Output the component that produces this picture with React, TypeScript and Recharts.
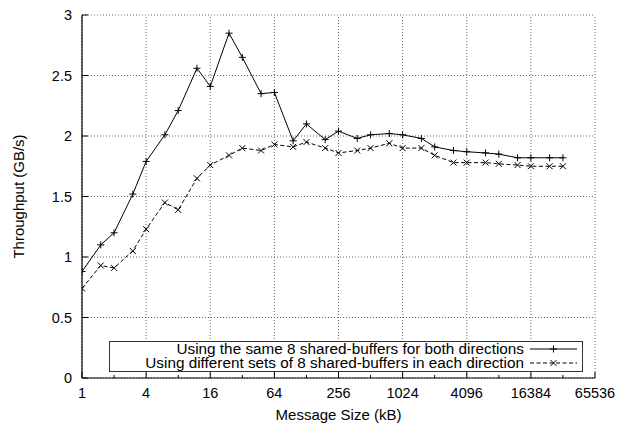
import React from 'react'
import {
  LineChart,
  Line,
  XAxis,
  YAxis,
  CartesianGrid,
  ReferenceLine,
  Legend,
} from 'recharts'

const FONT = '"Liberation Sans", Arial, Helvetica, sans-serif'
const GRID = '#666'

// message sizes in kB
const SIZES = [
  1, 1.5, 2, 3, 4, 6, 8, 12, 16, 24, 32, 48, 64, 96, 128, 192, 256, 384, 512, 768, 1024, 1536,
  2048, 3072, 4096, 6144, 8192, 12288, 16384, 24576, 32768,
]
// throughput (GB/s), same 8 shared-buffers for both directions
const SAME = [
  0.88, 1.1, 1.2, 1.52, 1.79, 2.01, 2.21, 2.56, 2.41, 2.85, 2.65, 2.35, 2.36, 1.96, 2.1, 1.97,
  2.04, 1.98, 2.01, 2.02, 2.01, 1.98, 1.91, 1.88, 1.87, 1.86, 1.85, 1.82, 1.82, 1.82, 1.82,
]
// throughput (GB/s), different sets of 8 shared-buffers in each direction
const DIFFERENT = [
  0.74, 0.93, 0.91, 1.05, 1.23, 1.45, 1.39, 1.65, 1.76, 1.84, 1.9, 1.88, 1.93, 1.91, 1.95, 1.9,
  1.86, 1.88, 1.9, 1.94, 1.9, 1.9, 1.84, 1.78, 1.78, 1.78, 1.77, 1.76, 1.75, 1.75, 1.75,
]

const X_MAJOR = [1, 4, 16, 64, 256, 1024, 4096, 16384, 65536]
const X_ALL = [1, 2, 4, 8, 16, 32, 64, 128, 256, 512, 1024, 2048, 4096, 8192, 16384, 32768, 65536]
const Y_TICKS = [0, 0.5, 1, 1.5, 2, 2.5, 3]

const LABEL_SAME = 'Using the same 8 shared-buffers for both directions'
const LABEL_DIFF = 'Using different sets of 8 shared-buffers in each direction'

const data = SIZES.map((s, i) => ({ size: s, same: SAME[i], diff: DIFFERENT[i] }))

const tickLen = (v: number) => (X_MAJOR.includes(v) ? 6 : 3)

function BottomTick(props: any) {
  const { x, y, payload } = props
  const v = payload.value
  return (
    <g>
      <line x1={x} x2={x} y1={y} y2={y - tickLen(v)} stroke="#000" />
      {X_MAJOR.includes(v) && (
        <text x={x} y={y + 20} textAnchor="middle" fontSize={14.5} fontFamily={FONT} fill="#000">
          {v}
        </text>
      )}
    </g>
  )
}

function TopTick(props: any) {
  const { x, y, payload } = props
  return <line x1={x} x2={x} y1={y} y2={y + tickLen(payload.value)} stroke="#000" />
}

function LeftTick(props: any) {
  const { x, y, payload } = props
  return (
    <g>
      <line x1={x} x2={x + 6} y1={y} y2={y} stroke="#000" />
      <text x={x - 10} y={y + 5} textAnchor="end" fontSize={14.5} fontFamily={FONT} fill="#000">
        {payload.value}
      </text>
    </g>
  )
}

function RightTick(props: any) {
  const { x, y } = props
  return <line x1={x} x2={x - 6} y1={y} y2={y} stroke="#000" />
}

function PlusDot(props: any) {
  const { cx, cy } = props
  if (cx == null || cy == null) return null
  return (
    <g stroke="#000" strokeWidth={1} strokeDasharray="none">
      <line x1={cx - 3.5} x2={cx + 3.5} y1={cy} y2={cy} />
      <line x1={cx} x2={cx} y1={cy - 3.5} y2={cy + 3.5} />
    </g>
  )
}

function CrossDot(props: any) {
  const { cx, cy } = props
  if (cx == null || cy == null) return null
  return (
    <g stroke="#000" strokeWidth={1} strokeDasharray="none">
      <line x1={cx - 3} x2={cx + 3} y1={cy - 3} y2={cy + 3} />
      <line x1={cx - 3} x2={cx + 3} y1={cy + 3} y2={cy - 3} />
    </g>
  )
}

function KeyBox() {
  return (
    <svg width={474} height={31} style={{ display: 'block' }}>
      <rect x={0.5} y={0.5} width={473} height={30} fill="#fff" stroke="#333" />
      <text x={415} y={13.4} textAnchor="end" fontSize={15.3} fontFamily={FONT} fill="#000">
        {LABEL_SAME}
      </text>
      <line x1={421} x2={468} y1={8} y2={8} stroke="#000" />
      <PlusDot cx={444.5} cy={8} />
      <text x={415} y={27.4} textAnchor="end" fontSize={15.3} fontFamily={FONT} fill="#000">
        {LABEL_DIFF}
      </text>
      <line x1={421} x2={468} y1={22} y2={22} stroke="#000" strokeDasharray="4 2.5" />
      <CrossDot cx={444.5} cy={22} />
    </svg>
  )
}

const xTitle = (props: any) => {
  const vb = props.viewBox
  return (
    <text
      x={vb.x + vb.width / 2}
      y={vb.y + 42}
      textAnchor="middle"
      fontSize={15}
      fontFamily={FONT}
      fill="#000"
    >
      Message Size (kB)
    </text>
  )
}

const yTitle = (props: any) => {
  const vb = props.viewBox
  const cx = vb.x + 24
  const cy = vb.y + vb.height / 2
  return (
    <text
      x={cx}
      y={cy}
      transform={`rotate(-90, ${cx}, ${cy})`}
      textAnchor="middle"
      fontSize={15}
      fontFamily={FONT}
      fill="#000"
    >
      Throughput (GB/s)
    </text>
  )
}

export default function App() {
  return (
    <div style={{ position: 'absolute', left: 0, top: 0, width: 618, height: 423, background: '#fff' }}>
      <LineChart width={618} height={423} data={data} margin={{ top: 15, right: 23, bottom: 0, left: 0 }}>
        <CartesianGrid vertical={false} stroke={GRID} strokeDasharray="1 2" />
        {X_MAJOR.map((v) => (
          <ReferenceLine key={v} x={v} stroke={GRID} strokeDasharray="1 2" />
        ))}
        <XAxis
          dataKey="size"
          type="number"
          scale="log"
          domain={[1, 65536]}
          allowDataOverflow
          ticks={X_ALL}
          interval={0}
          height={45}
          tickSize={0}
          tickMargin={0}
          tickLine={false}
          tick={BottomTick}
          axisLine={{ stroke: '#000', strokeWidth: 1.2 }}
          label={xTitle}
        />
        <XAxis
          xAxisId="top"
          orientation="top"
          dataKey="size"
          type="number"
          scale="log"
          domain={[1, 65536]}
          allowDataOverflow
          ticks={X_ALL}
          interval={0}
          height={0}
          tickSize={0}
          tickMargin={0}
          tickLine={false}
          tick={TopTick}
          axisLine={{ stroke: '#000', strokeWidth: 1.2 }}
        />
        <YAxis
          type="number"
          domain={[0, 3]}
          ticks={Y_TICKS}
          interval={0}
          width={82}
          tickSize={0}
          tickMargin={0}
          tickLine={false}
          tick={LeftTick}
          axisLine={{ stroke: '#000', strokeWidth: 1.2 }}
          label={yTitle}
        />
        <YAxis
          yAxisId="r"
          orientation="right"
          type="number"
          domain={[0, 3]}
          ticks={Y_TICKS}
          interval={0}
          width={0}
          tickSize={0}
          tickMargin={0}
          tickLine={false}
          tick={RightTick}
          axisLine={{ stroke: '#000', strokeWidth: 1.2 }}
        />
        <Line
          type="linear"
          dataKey="same"
          name={LABEL_SAME}
          stroke="#000"
          strokeWidth={1}
          dot={PlusDot}
          activeDot={false}
          isAnimationActive={false}
        />
        <Line
          type="linear"
          dataKey="diff"
          name={LABEL_DIFF}
          stroke="#000"
          strokeWidth={1}
          strokeDasharray="4 2.5"
          dot={CrossDot}
          activeDot={false}
          isAnimationActive={false}
        />
        <Legend
          layout="vertical"
          align="center"
          verticalAlign="middle"
          content={() => <KeyBox />}
          wrapperStyle={{ position: 'absolute', left: 109, top: 341, width: 474, height: 31, margin: 0, padding: 0 }}
        />
      </LineChart>
    </div>
  )
}
